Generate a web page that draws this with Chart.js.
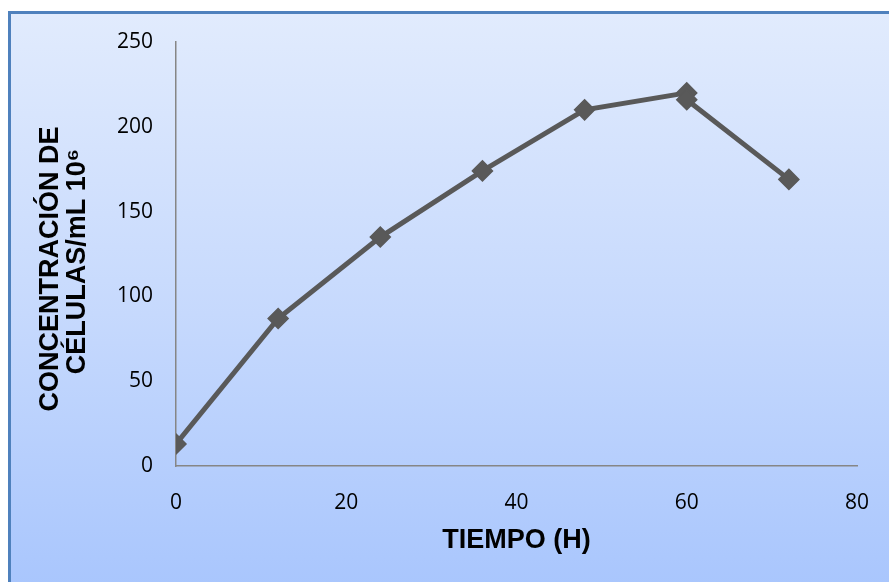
<!DOCTYPE html>
<html>
<head>
<meta charset="utf-8">
<script src="https://cdn.jsdelivr.net/npm/chart.js@4"></script>
<style>
  body { margin: 0; background: #fff; }
  #wrap { position: relative; width: 889px; height: 582px; overflow: hidden; background: #fff; }
  #panel {
    position: absolute; left: 8px; top: 11px; width: 900px; height: 600px;
    border-left: 3px solid #4f81bd; border-top: 3px solid #4f81bd;
    background: linear-gradient(to bottom, #e1ebfd 0%, #c6d9fd 50%, #a6c4fd 100%);
  }
  #chart_div { position: absolute; left: 0; top: 0; }
</style>
</head>
<body>
<div id="wrap">
  <div id="panel"></div>
  <canvas id="chart_div" width="889" height="582"></canvas>
</div>
<script>
const horas = [0, 12, 24, 36, 48, 60, 60, 72];
const celulas = [13, 87, 135, 174, 210, 220, 216, 169];
const xTicks = [0, 20, 40, 60, 80];
const yTicks = [0, 50, 100, 150, 200, 250];

const points = horas.map((h, i) => ({ x: h, y: celulas[i] }));
const ctx = document.getElementById('chart_div');

new Chart(ctx, {
  type: 'scatter',
  data: {
    datasets: [{
      label: 'Células',
      data: points,
      showLine: true,
      borderColor: '#595959',
      backgroundColor: '#595959',
      borderWidth: 5,
      pointStyle: 'rectRot',
      pointRadius: 10,
      pointBorderWidth: 1.5,
      pointBorderColor: '#595959',
      tension: 0
    }]
  },
  options: {
    responsive: false,
    animation: false,
    layout: { padding: { left: 0, top: 42, right: 32, bottom: 0 } },
    plugins: { legend: { display: false }, tooltip: { enabled: false } },
    scales: {
      x: {
        type: 'linear',
        min: xTicks[0],
        max: xTicks[xTicks.length - 1],
        afterBuildTicks: s => { s.ticks = xTicks.map(v => ({ value: v })); },
        afterFit: s => { s.height = 116; },
        grid: { display: false },
        border: { color: '#868686', width: 1.5 },
        ticks: { color: '#000', padding: 16, font: { family: 'Open Sans', size: 21 } },
        title: {
          display: true,
          text: 'TIEMPO (H)',
          color: '#000',
          padding: { top: 0, bottom: 28 },
          font: { family: 'Liberation Sans', size: 27, weight: 'bold', lineHeight: 1.0 }
        }
      },
      y: {
        min: yTicks[0],
        max: yTicks[yTicks.length - 1],
        afterBuildTicks: s => { s.ticks = yTicks.map(v => ({ value: v })); },
        afterFit: s => { s.width = 176; },
        grid: { display: false },
        border: { color: '#868686', width: 1.5 },
        ticks: { color: '#000', padding: 15, font: { family: 'Open Sans', size: 21 } },
        title: {
          display: true,
          text: ['CONCENTRACIÓN DE    ', 'CÉLULAS/mL 10⁶  '],
          color: '#000',
          padding: { top: 37, bottom: 0 },
          font: { family: 'Liberation Sans', size: 27, weight: 'bold', lineHeight: 1.0 }
        }
      }
    }
  }
});
</script>
</body>
</html>
